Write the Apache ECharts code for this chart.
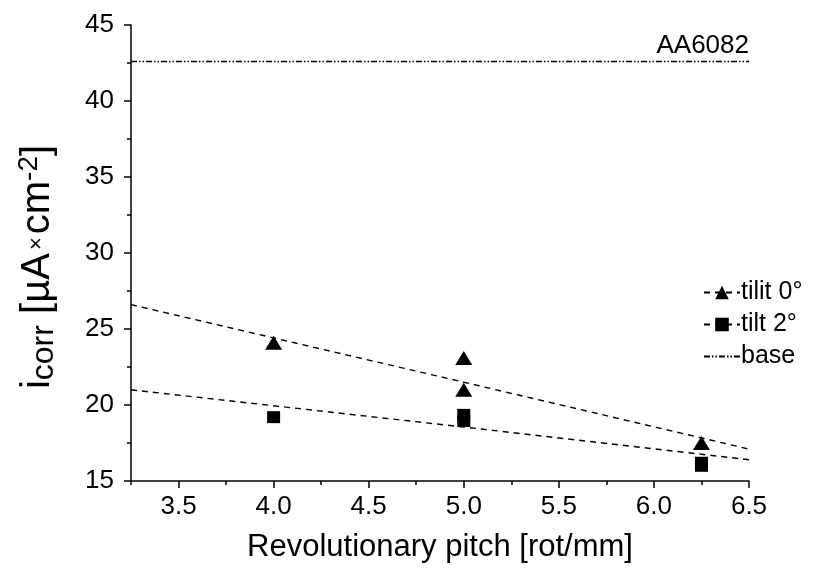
<!DOCTYPE html>
<html><head><meta charset="utf-8">
<script src="https://cdn.jsdelivr.net/npm/echarts@6/dist/echarts.min.js"></script>
<style>html,body{margin:0;padding:0;background:#fff}#c{width:832px;height:580px}</style>
</head><body><div id="c"></div>
<script>
// ---- data ----
const tilt0X = [4.0, 5.0, 5.0, 6.25];
const tilt0Y = [24.1, 23.1, 21.0, 17.5];
const tilt2X = [4.0, 5.0, 5.0, 6.25, 6.25];
const tilt2Y = [19.2, 19.35, 18.95, 16.2, 16.0];
const fit0X = [3.25, 5.0, 6.5];
const fit0Y = [26.6, 21.5, 17.1];
const fit2X = [3.25, 5.0, 6.5];
const fit2Y = [21.0, 18.55, 16.4];
const baseX = [3.25, 6.5];
const baseY = [42.6, 42.6];
const xMajorTicks = [3.5, 4.0, 4.5, 5.0, 5.5, 6.0, 6.5];
const xMinorTicks = [3.25, 3.75, 4.25, 4.75, 5.25, 5.75, 6.25];
const seriesNames = ['tilit 0°', 'tilt 2°', 'base'];
const baseLabel = 'AA6082';
const xTitle = 'Revolutionary pitch [rot/mm]';

const FONT = 'Liberation Sans, Arial, sans-serif';
const zip = (xs, ys) => xs.map((x, i) => [x, ys[i]]);

const chart = echarts.init(document.getElementById('c'), null, {renderer: 'canvas'});
const axisCommon = {
  axisLine: {show: true, lineStyle: {color: '#000', width: 1.5}},
  splitLine: {show: false}
};
chart.setOption({
  animation: false,
  backgroundColor: '#fff',
  grid: {left: 131, right: 83, top: 25, bottom: 99},
  legend: {
    data: [
      {name: seriesNames[0]},
      {name: seriesNames[1]},
      {name: seriesNames[2], itemStyle: {opacity: 0}}
    ],
    orient: 'vertical', left: 698, top: 275,
    itemWidth: 36, itemHeight: 17, itemGap: 7,
    textStyle: {fontFamily: FONT, fontSize: 25, color: '#000', padding: [0, 0, 0, -4]}
  },
  xAxis: [{
    type: 'value', min: 3.25, max: 6.5, position: 'bottom',
    ...axisCommon,
    axisTick: {show: true, length: 7, customValues: xMajorTicks, lineStyle: {color: '#000', width: 1.5}},
    axisLabel: {customValues: xMajorTicks, formatter: v => v.toFixed(1), fontFamily: FONT, fontSize: 26, color: '#000', margin: 13},
    name: xTitle, nameLocation: 'middle', nameGap: 51,
    nameTextStyle: {fontFamily: FONT, fontSize: 31, color: '#000'}
  }, {
    type: 'value', min: 3.25, max: 6.5, position: 'bottom', offset: 0,
    axisLine: {show: false}, splitLine: {show: false}, axisLabel: {show: false},
    axisTick: {show: true, length: 4, customValues: xMinorTicks, lineStyle: {color: '#000', width: 1.5}}
  }],
  yAxis: {
    type: 'value', min: 15, max: 45, interval: 5,
    ...axisCommon,
    axisTick: {show: true, length: 7, lineStyle: {color: '#000', width: 1.5}},
    minorTick: {show: true, splitNumber: 2, length: 4, lineStyle: {color: '#000', width: 1.5}},
    axisLabel: {fontFamily: FONT, fontSize: 26, color: '#000', margin: 17},
    name: '{b|i}{s|corr}{b| [µA}{x|×}{b|cm}{p|-2}{b|]}',
    nameLocation: 'middle', nameRotate: 90, nameGap: 70,
    nameTextStyle: {
      color: '#000', padding: [0, 28, 0, 0],
      rich: {
        b: {fontFamily: FONT, fontSize: 40, color: '#000'},
        s: {fontFamily: FONT, fontSize: 32, color: '#000', padding: [12, 0, 0, 0]},
        x: {fontFamily: FONT, fontSize: 22, color: '#000', padding: [0, 3, 2, 3]},
        p: {fontFamily: FONT, fontSize: 28, color: '#000', padding: [0, 0, 18, 0]}
      }
    }
  },
  series: [
    {
      name: seriesNames[0], type: 'line', data: zip(fit0X, fit0Y),
      symbol: 'triangle', showSymbol: false, symbolSize: [16, 14],
      lineStyle: {color: '#000', width: 1.4, type: [6, 5]}, itemStyle: {color: '#000'},
      silent: true, z: 2
    },
    {
      name: seriesNames[1], type: 'line', data: zip(fit2X, fit2Y),
      symbol: 'rect', showSymbol: false, symbolSize: 12,
      lineStyle: {color: '#000', width: 1.4, type: [6, 5]}, itemStyle: {color: '#000'},
      silent: true, z: 2
    },
    {
      name: seriesNames[2], type: 'line', data: zip(baseX, baseY),
      symbol: 'circle', showSymbol: false,
      lineStyle: {color: '#000', width: 1.4, type: [6, 2, 1.5, 2, 1.5, 2]}, itemStyle: {color: '#000'},
      silent: true, z: 2
    },
    {
      name: 'tilt0pts', type: 'scatter', data: zip(tilt0X, tilt0Y),
      symbol: 'triangle', symbolSize: [17, 14], itemStyle: {color: '#000', opacity: 1}, z: 3
    },
    {
      name: 'tilt2pts', type: 'scatter', data: zip(tilt2X, tilt2Y),
      symbol: 'rect', symbolSize: [13, 12], itemStyle: {color: '#000', opacity: 1}, z: 3
    },
    {
      name: 'baseLabel', type: 'scatter', clip: false,
      data: [[baseX[baseX.length - 1], baseY[baseY.length - 1]]],
      symbolSize: 0, itemStyle: {opacity: 1, color: '#000'},
      label: {show: true, position: 'top', align: 'right', distance: 3, formatter: baseLabel,
              fontFamily: FONT, fontSize: 26, color: '#000', opacity: 1},
      z: 3
    }
  ]
});
</script></body></html>
